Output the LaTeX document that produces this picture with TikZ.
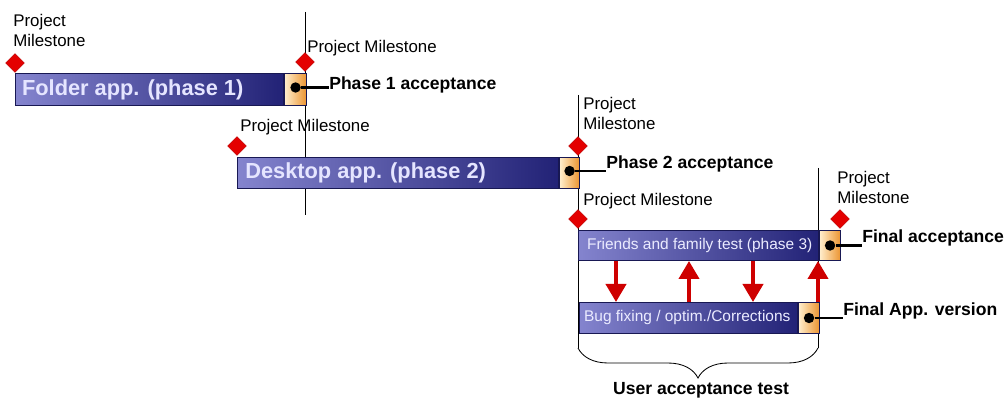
\documentclass[tikz,border=0pt]{standalone}
\usepackage{fontspec}
\setmainfont{Liberation Sans}
\usetikzlibrary{arrows.meta,positioning,shapes.geometric,decorations.pathreplacing}

\definecolor{barlight}{RGB}{132,132,206}
\definecolor{bardark}{RGB}{34,34,118}
\definecolor{boxlight}{RGB}{255,238,205}
\definecolor{boxdark}{RGB}{236,148,48}
\definecolor{msred}{RGB}{228,0,0}
\definecolor{fixred}{RGB}{206,0,0}

\begin{document}
\begin{tikzpicture}[
  x=0.025cm, y=-0.025cm,
  task bar/.style={
    draw=bardark!70!black,
    line width=0.7pt,
    left color=barlight,
    right color=bardark,
    anchor=north west,
    inner sep=0pt
  },
  accept box/.style={
    draw=bardark!70!black,
    line width=0.7pt,
    left color=boxlight,
    right color=boxdark,
    anchor=west,
    inner sep=0pt
  },
  big title/.style={
    anchor=west,
    text=white!90!blue,
    inner sep=0pt,
    font=\fontsize{15.5}{17}\selectfont\bfseries
  },
  small title/.style={
    anchor=west,
    text=white!92!blue,
    inner sep=0pt,
    font=\fontsize{11}{12}\selectfont
  },
  milestone/.style={
    diamond,
    fill=msred,
    draw=msred!80!black,
    line width=0.3pt,
    minimum width=0.47cm,
    minimum height=0.47cm,
    inner sep=0pt
  },
  milestone note/.style={
    align=left,
    inner sep=0pt,
    font=\fontsize{12}{14.5}\selectfont
  },
  accept dot/.style={
    circle,
    fill=black,
    minimum size=0.26cm,
    inner sep=0pt
  },
  accept label/.style={
    anchor=west,
    inner sep=0pt,
    font=\fontsize{12.5}{14}\selectfont\bfseries
  },
  accept link/.style={line width=1.5pt},
  gate line/.style={line width=0.6pt},
  fix flow/.style={-{Triangle[length=0.45cm,width=0.5cm]},line width=2.8pt,draw=fixred,fill=fixred},
  uat brace/.style={decorate,decoration={brace,mirror,amplitude=0.75cm},line width=0.6pt}
]
  \useasboundingbox (0,0) rectangle (1008,399);

  \coordinate (gate1-top) at (305,12);
  \coordinate (gate1-bottom) at (305,215);
  \coordinate (gate2-top) at (578,95);
  \coordinate (uat-left) at (578,348);
  \coordinate (gate3-top) at (818,168);
  \coordinate (uat-right) at (818,348);
  \draw[gate line] (gate1-top)--(gate1-bottom);
  \draw[gate line] (gate2-top)--(uat-left);
  \draw[gate line] (gate3-top)--(uat-right);

  \node[task bar,minimum width=6.7cm,minimum height=0.8cm] (folder-bar) at (15,73) {};
  \node[accept box,minimum width=0.55cm,minimum height=0.8cm] (folder-box) at (folder-bar.east) {};
  \node[big title] (folder-title) at ([xshift=0.17cm]folder-bar.west) {Folder app. (phase 1)};
  \node[accept dot] (folder-dot) at ([yshift=0.05cm]folder-box.center) {};
  \node[accept label] (phase1-label) at (329,85) {Phase 1 acceptance};
  \node[milestone] (folder-start) at (15,63) {};
  \node[milestone] (folder-end) at (305,62) {};
  \node[milestone note,anchor=north west] (folder-start-note) at (13,14) {Project\\Milestone};
  \node[milestone note,anchor=west] (folder-end-note) at (307,48) {Project Milestone};

  \node[task bar,minimum width=8.025cm,minimum height=0.775cm] (desktop-bar) at (237,157) {};
  \node[accept box,minimum width=0.5cm,minimum height=0.775cm] (desktop-box) at (desktop-bar.east) {};
  \node[big title] (desktop-title) at ([xshift=0.2cm]desktop-bar.west) {Desktop app. (phase 2)};
  \node[accept dot] (desktop-dot) at ([yshift=0.05cm]desktop-box.center) {};
  \node[accept label] (phase2-label) at (606,164) {Phase 2 acceptance};
  \node[milestone] (desktop-start) at (237,146) {};
  \node[milestone] (desktop-end) at (578,146) {};
  \node[milestone note,anchor=west] (desktop-start-note) at (240,127) {Project Milestone};
  \node[milestone note,anchor=north west] (desktop-end-note) at (583,97) {Project\\Milestone};

  \node[task bar,minimum width=6cm,minimum height=0.75cm] (friends-bar) at (578,230) {};
  \node[accept box,minimum width=0.525cm,minimum height=0.75cm] (friends-box) at (friends-bar.east) {};
  \node[small title] (friends-title) at ([xshift=0.22cm]friends-bar.west) {Friends and family test (phase 3)};
  \node[accept dot] (friends-dot) at (friends-box.center) {};
  \node[accept label] (final-label) at (862,238) {Final acceptance};
  \node[milestone] (friends-start) at (578,219) {};
  \node[milestone] (friends-end) at (840,219) {};
  \node[milestone note,anchor=west] (friends-start-note) at (583,201) {Project Milestone};
  \node[milestone note,anchor=north west] (friends-end-note) at (837,171) {Project\\Milestone};

  \node[task bar,minimum width=5.45cm,minimum height=0.775cm] (bug-bar) at (579,302) {};
  \node[accept box,minimum width=0.525cm,minimum height=0.775cm] (bug-box) at (bug-bar.east) {};
  \node[small title] (bug-title) at ([xshift=0.12cm]bug-bar.west) {Bug fixing / optim./Corrections};
  \node[accept dot] (bug-dot) at (bug-box.center) {};
  \node[accept label] (version-label) at (843,311) {Final App. version};

  \draw[accept link] (folder-dot)--(folder-dot -| phase1-label.west);
  \draw[accept link] (desktop-dot)--(desktop-dot -| phase2-label.west);
  \draw[accept link] (friends-dot)--(friends-dot -| final-label.west);
  \draw[accept link] (bug-dot)--(bug-dot -| version-label.west);

  \draw[fix flow] (friends-bar.south -| 616,0)--(bug-bar.north -| 616,0);
  \draw[fix flow] (bug-bar.north -| 689,0)--(friends-bar.south -| 689,0);
  \draw[fix flow] (friends-bar.south -| 753,0)--(bug-bar.north -| 753,0);
  \draw[fix flow] (bug-box.north -| 818,0)--(friends-bar.south -| 818,0);

  \draw[uat brace] (uat-left)--(uat-right);
  \node[accept label,anchor=center] (uat-label) at (701,390) {User acceptance test};
\end{tikzpicture}
\end{document}
